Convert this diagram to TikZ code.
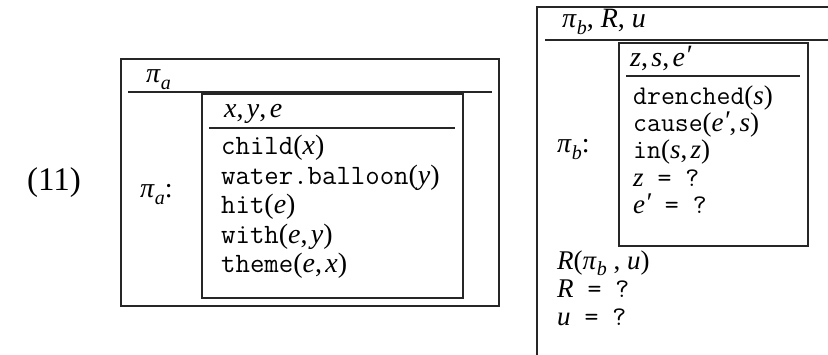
\documentclass[tikz,border=0pt]{standalone}
\usepackage{fontspec}
\setmainfont{Liberation Serif}
\newcommand\vv[1]{\textit{#1}}
\newcommand\lsub[1]{\raisebox{-0.22em}{\fontsize{20}{20}\selectfont\itshape #1}}
\newcommand\prm{\raisebox{0.1em}{\itshape ′}}
\newcommand\cm{,\kern0.12em}
\begin{document}
\begin{tikzpicture}[x=1pt,y=-1pt,
  txt/.style={anchor=base west, inner sep=0pt, text height=19pt, text depth=6pt,
    font=\fontsize{28}{30}\selectfont},
  rtxt/.style={txt, font=\fontsize{27}{29}\selectfont},
  num/.style={anchor=base west, inner sep=0pt, font=\fontsize{33}{36}\selectfont},
  boxline/.style={line width=1.3pt, draw=black!85}]
\useasboundingbox (0,0) rectangle (828,355);
% left DRS
\draw[boxline] (121,59) rectangle (499,306);
\draw[boxline] (128,92) -- (492,92);
\draw[boxline] (202,94) rectangle (463,298);
\draw[boxline] (209,128) -- (455,128);
\node[num] (ex) at (27,191) {(11)};
\node[txt] (pa) at (146,83) {\vv{π}\lsub{a}};
\node[txt] (pacolon) at (140,198) {\vv{π}\lsub{a}:};
\node[txt] (xye) at (224,118) {\vv{x}\cm\vv{y}\cm\vv{e}};
\node[txt] (c1) at (221,155) {\texttt{child}(\vv{x})};
\node[txt] (c2) at (221,185) {\texttt{water.balloon}(\vv{y})};
\node[txt] (c3) at (221,214) {\texttt{hit}(\vv{e})};
\node[txt] (c4) at (221,244) {\texttt{with}(\vv{e}\cm\vv{y})};
\node[txt] (c5) at (221,273) {\texttt{theme}(\vv{e}\cm\vv{x})};
% right DRS
\draw[boxline] (537,356) -- (537,7) -- (829,7);
\draw[boxline] (545,40) -- (829,40);
\draw[boxline] (619,43) rectangle (808,246);
\draw[boxline] (626,76) -- (800,76);
\node[txt] (pbru) at (562,28) {\vv{π}\lsub{b}, \vv{R}, \vv{u}};
\node[txt] (pbcolon) at (557,153) {\vv{π}\lsub{b}:};
\node[txt] (zse) at (630,67) {\vv{z}\cm\vv{s}\cm\vv{e}\prm};
\node[rtxt] (d1) at (633,105) {\texttt{drenched}(\vv{s})};
\node[rtxt] (d2) at (633,132) {\texttt{cause}(\vv{e}\prm\cm\vv{s})};
\node[rtxt] (d3) at (633,159) {\texttt{in}(\vv{s}\cm\vv{z})};
\node[rtxt] (d4) at (633,187) {\vv{z}\texttt{ = ?}};
\node[rtxt] (d5) at (633,214) {\vv{e}\prm\texttt{ = ?}};
\node[rtxt] (r1) at (557,270) {\vv{R}(\vv{π}\lsub{b} , \vv{u})};
\node[rtxt] (r2) at (557,298) {\vv{R}\texttt{ = ?}};
\node[rtxt] (r3) at (557,326) {\vv{u}\texttt{ = ?}};
\end{tikzpicture}
\end{document}
